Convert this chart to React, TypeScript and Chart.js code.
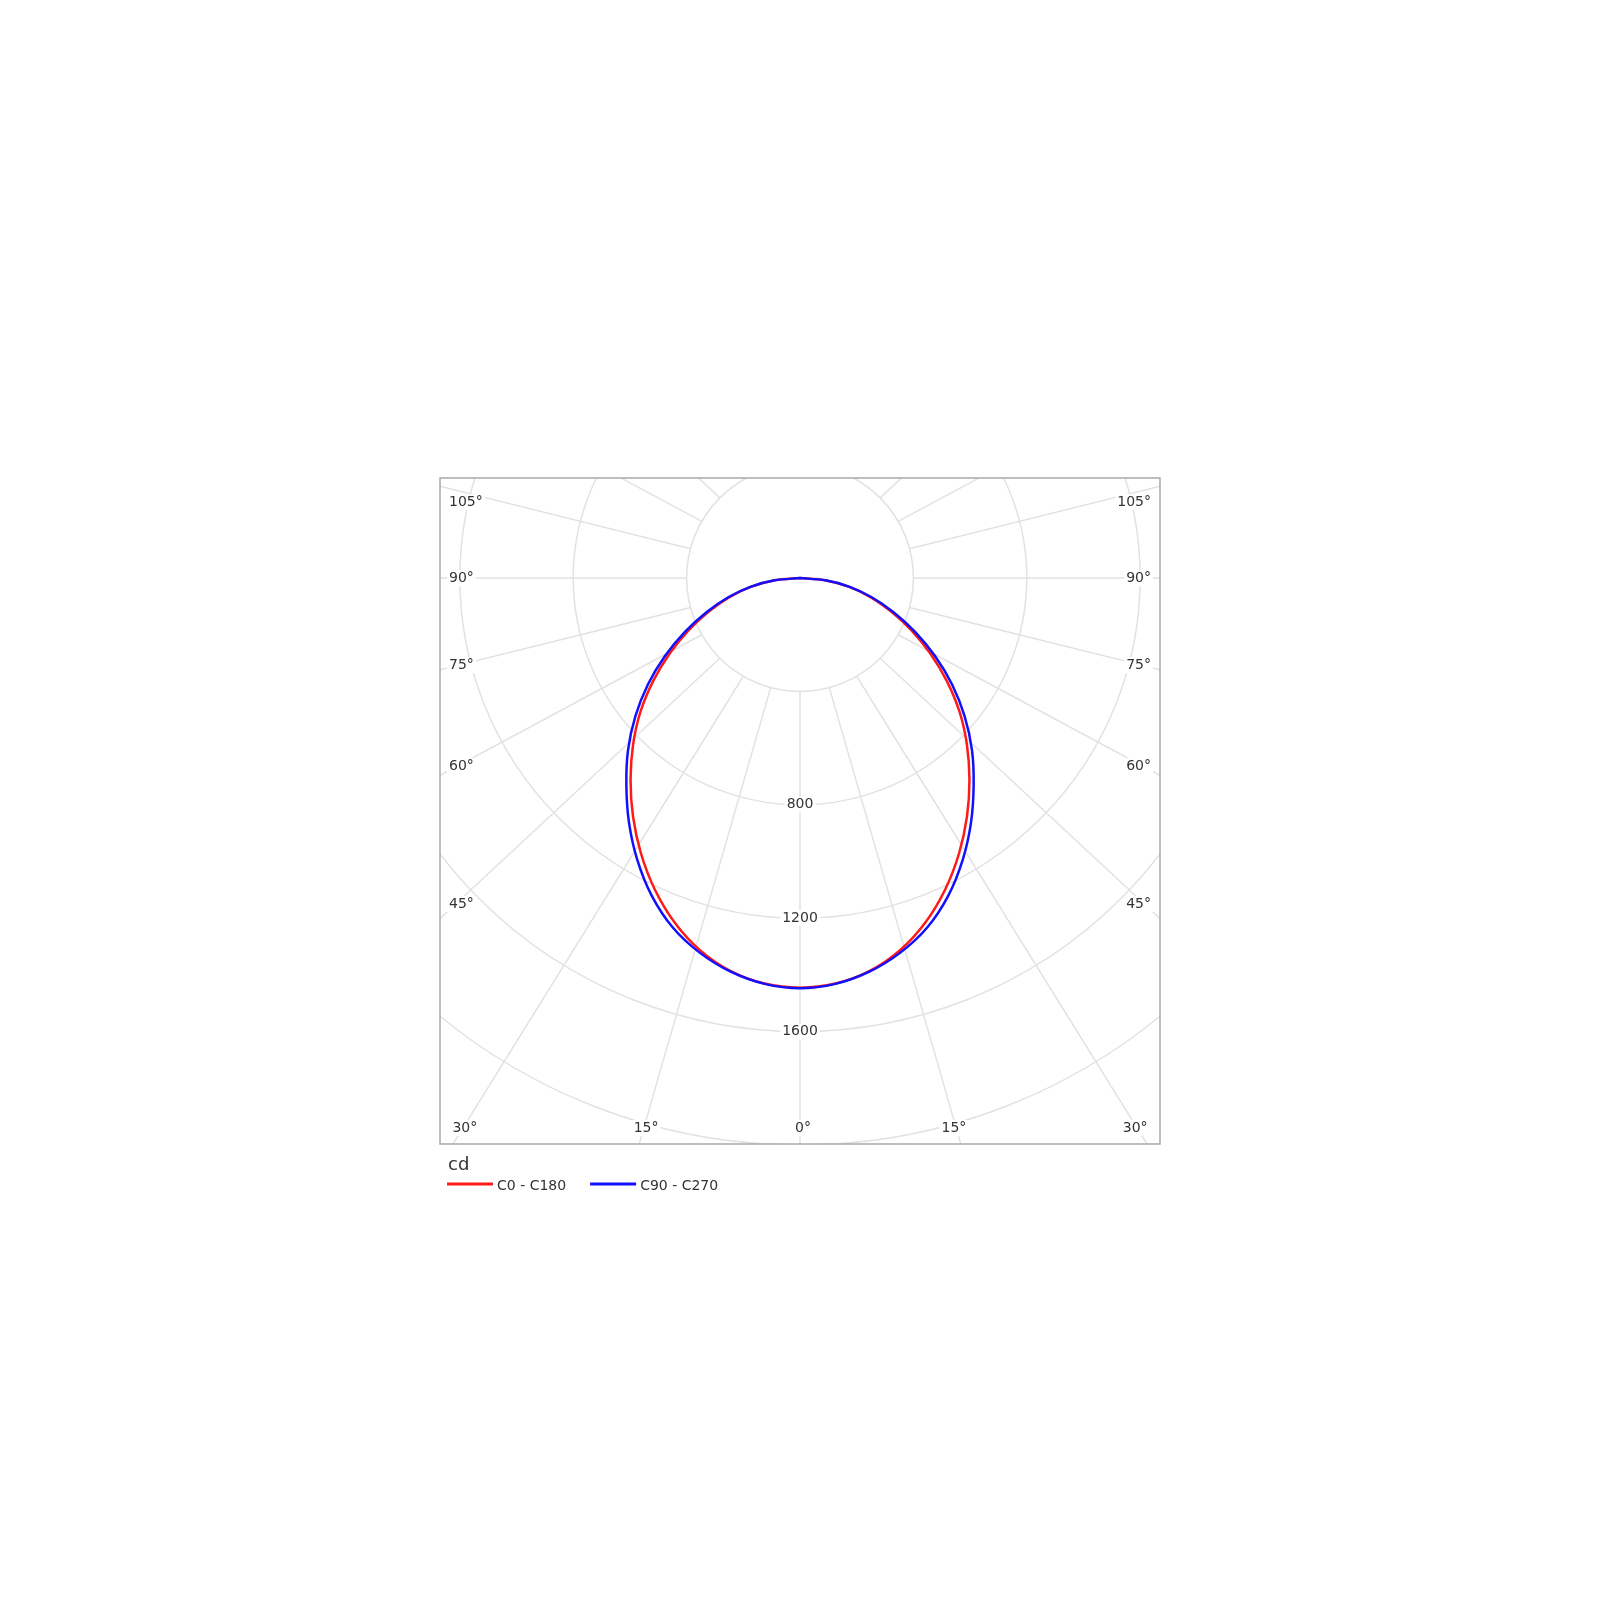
import React, { useEffect, useRef } from "react";
import Chart from "chart.js/auto";

// gamma angles of the measured points, C0/C90 side to the left (negative)
const angles = [
  -90, -85, -80, -75, -70, -65, -60, -55, -50, -45, -40, -35, -30, -25, -20, -15, -10, -5, 0,
  5, 10, 15, 20, 25, 30, 35, 40, 45, 50, 55, 60, 65, 70, 75, 80, 85, 90,
];

// luminous intensity in cd
const c0c180 = [
  0, 88, 174, 256, 340, 432, 530, 632, 735, 833, 930, 1027, 1122, 1212, 1293, 1360, 1408, 1436, 1445,
  1436, 1408, 1360, 1293, 1212, 1122, 1027, 930, 833, 735, 632, 530, 432, 340, 256, 174, 88, 0,
];
const c90c270 = [
  0, 90, 178, 262, 350, 447, 550, 655, 758, 858, 953, 1052, 1148, 1237, 1312, 1368, 1410, 1437, 1447,
  1437, 1410, 1368, 1312, 1237, 1148, 1052, 953, 858, 758, 655, 550, 447, 350, 262, 178, 90, 0,
];

const seriesNames = ["C0 - C180", "C90 - C270"];
const seriesColors = ["#ff1a1a", "#1010ff"];

// polar grid
const rings = [400, 800, 1200, 1600, 2000, 2400];
const ringLabels = [800, 1200, 1600];
const spokes = [0, 15, 30, 45, 60, 75, 90, 105, 120, 135, 150, 165, 180, 195, 210, 225, 240, 255, 270, 285, 300, 315, 330, 345];
const angleLabels = [0, 15, 30, 45, 60, 75, 90, 105];
const unitLabel = "cd";

const GRID = "#e2e2e2";
const TEXT = "#333333";
const FONT = '"DejaVu Sans", "Verdana", sans-serif';
const SPREAD = 1.065; // outer ends of the spokes lean a little towards the horizontal

const toPoints = (vals: number[]) =>
  vals.map((v, i) => {
    const t = (angles[i] * Math.PI) / 180;
    return { x: v * Math.sin(t), y: -v * Math.cos(t) };
  });

function labelBox(ctx: CanvasRenderingContext2D, text: string, x: number, y: number, align: CanvasTextAlign) {
  const w = ctx.measureText(text).width;
  const left = align === "left" ? x : align === "right" ? x - w : x - w / 2;
  ctx.fillStyle = "#ffffff";
  ctx.fillRect(left - 2, y - 8, w + 4, 16);
  ctx.fillStyle = TEXT;
  ctx.textAlign = align;
  ctx.fillText(text, x, y);
}

const polarGrid = {
  id: "polarGrid",
  beforeDatasetsDraw(chart: any) {
    const { ctx, chartArea: a, scales } = chart;
    const cx = scales.x.getPixelForValue(0);
    const cy = scales.y.getPixelForValue(0);
    const k = (scales.x.getPixelForValue(1000) - cx) / 1000;

    ctx.save();
    ctx.beginPath();
    ctx.rect(a.left, a.top, a.right - a.left, a.bottom - a.top);
    ctx.clip();

    ctx.strokeStyle = GRID;
    ctx.lineWidth = 1.5;
    rings.forEach((r) => {
      ctx.beginPath();
      ctx.arc(cx, cy, r * k, 0, Math.PI * 2);
      ctx.stroke();
    });
    spokes.forEach((deg) => {
      const t = (deg * Math.PI) / 180;
      const r0 = rings[0] * k;
      const r1 = 3000 * k;
      ctx.beginPath();
      ctx.moveTo(cx + r0 * Math.sin(t), cy + r0 * Math.cos(t));
      ctx.lineTo(cx + SPREAD * r1 * Math.sin(t), cy + r1 * Math.cos(t));
      ctx.stroke();
    });

    ctx.font = `14px ${FONT}`;
    ctx.textBaseline = "middle";
    ringLabels.forEach((r) => labelBox(ctx, String(r), cx, cy + r * k, "center"));

    const bottomY = a.bottom - 16;
    angleLabels.forEach((deg) => {
      const t = (deg * Math.PI) / 180;
      [-1, 1].forEach((side) => {
        if (deg === 0 && side === 1) return;
        const dx = side * SPREAD * Math.sin(t);
        const dy = Math.cos(t);
        const sideX = side < 0 ? a.left + 13 : a.right - 13;
        const tSide = Math.abs(dx) > 1e-6 ? Math.abs(sideX - cx) / Math.abs(dx) : Infinity;
        const tBottom = dy > 1e-6 ? (bottomY - cy) / dy : Infinity;
        const text = `${deg}°`;
        if (tBottom < tSide) {
          labelBox(ctx, text, cx + dx * tBottom - side * 3, bottomY, "center");
        } else {
          const y = Math.max(cy + dy * tSide, a.top + 24);
          if (side < 0) labelBox(ctx, text, a.left + 9, y, "left");
          else labelBox(ctx, text, a.right - 9, y, "right");
        }
      });
    });
    ctx.restore();
  },
  afterDraw(chart: any) {
    const { ctx, chartArea: a } = chart;
    ctx.save();
    ctx.strokeStyle = "#a9a9a9";
    ctx.lineWidth = 1.5;
    ctx.strokeRect(a.left, a.top, a.right - a.left, a.bottom - a.top);

    ctx.fillStyle = TEXT;
    ctx.textBaseline = "middle";
    ctx.textAlign = "left";
    ctx.font = `18px ${FONT}`;
    ctx.fillText(unitLabel, a.left + 8, a.bottom + 21);

    ctx.font = `14px ${FONT}`;
    let x = a.left + 7;
    const y = a.bottom + 40;
    seriesNames.forEach((name, i) => {
      ctx.strokeStyle = seriesColors[i];
      ctx.lineWidth = 3;
      ctx.beginPath();
      ctx.moveTo(x, y);
      ctx.lineTo(x + 46, y);
      ctx.stroke();
      ctx.fillStyle = TEXT;
      ctx.fillText(name, x + 50, y + 2);
      x += 50 + ctx.measureText(name).width + 24;
    });
    ctx.restore();
  },
};

export default function App() {
  const canvasRef = useRef<HTMLCanvasElement | null>(null);
  const chartRef = useRef<Chart | null>(null);

  useEffect(() => {
    if (!canvasRef.current) return;
    chartRef.current = new Chart(canvasRef.current, {
      type: "scatter",
      data: {
        datasets: [
          {
            label: seriesNames[1],
            data: toPoints(c90c270),
            showLine: true,
            borderColor: seriesColors[1],
            borderWidth: 2.5,
            pointRadius: 0,
            tension: 0.3,
            order: 0,
          },
          {
            label: seriesNames[0],
            data: toPoints(c0c180),
            showLine: true,
            borderColor: seriesColors[0],
            borderWidth: 2.5,
            pointRadius: 0,
            tension: 0.3,
            order: 1,
          },
        ],
      },
      options: {
        animation: false,
        responsive: true,
        maintainAspectRatio: false,
        events: [],
        layout: { padding: { left: 440, right: 440, top: 478, bottom: 456 } },
        plugins: {
          legend: { display: false },
          tooltip: { enabled: false },
        },
        elements: { line: { capBezierPoints: false } },
        scales: {
          x: { type: "linear", min: -1270, max: 1270, display: false },
          y: { type: "linear", min: -1996.5, max: 353, display: false },
        },
      },
      plugins: [polarGrid],
    });

    return () => {
      if (chartRef.current) chartRef.current.destroy();
    };
  }, []);

  return (
    <div style={{ position: "absolute", left: 0, top: 0, width: 1600, height: 1600, background: "#fff" }}>
      <canvas ref={canvasRef} />
    </div>
  );
}
